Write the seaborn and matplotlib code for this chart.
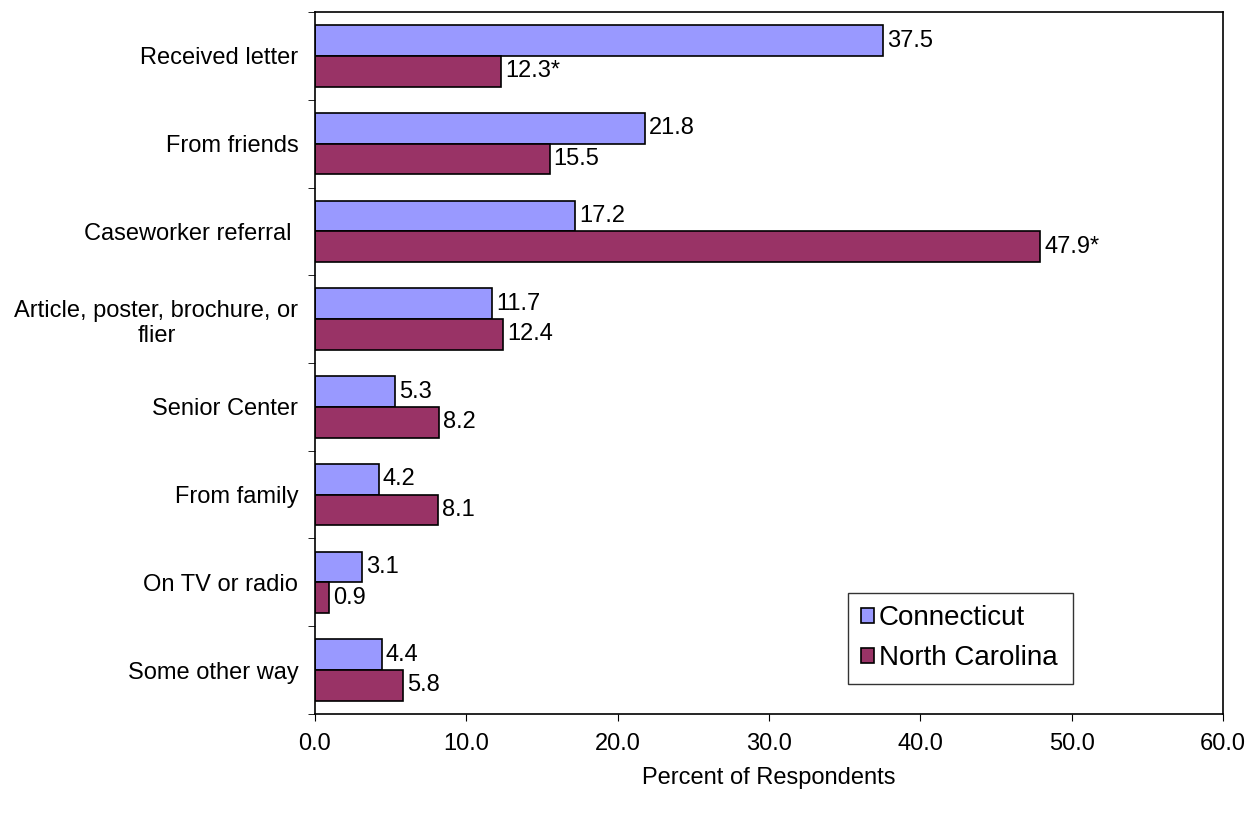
import pandas as pd
import seaborn as sns
import matplotlib.pyplot as plt
import numpy as np

# Data
categories = ['Received letter', 'From friends', 'Caseworker referral ',
              'Article, poster, brochure, or\nflier', 'Senior Center', 'From family',
              'On TV or radio', 'Some other way']
connecticut = [37.5, 21.8, 17.2, 11.7, 5.3, 4.2, 3.1, 4.4]
north_carolina = [12.3, 15.5, 47.9, 12.4, 8.2, 8.1, 0.9, 5.8]
nc_marks = ['*', '', '*', '', '', '', '', '']
states = ['Connecticut', 'North Carolina']
colors = ['#9999FF', '#993366']

df = pd.DataFrame({
    'category': categories * 2,
    'value': connecticut + north_carolina,
    'state': [states[0]] * len(categories) + [states[1]] * len(categories),
})

sns.set_style('white')
plt.rcParams['font.family'] = ['Liberation Sans', 'DejaVu Sans']
plt.rcParams['text.color'] = 'black'
plt.rcParams['axes.labelcolor'] = 'black'
plt.rcParams['xtick.color'] = 'black'
plt.rcParams['ytick.color'] = 'black'

fig = plt.figure(figsize=(12.49, 8.13), dpi=100)
ax = fig.add_axes([0.2522, 0.1218, 0.727, 0.8634])

sns.barplot(data=df, x='value', y='category', hue='state', orient='h',
            palette=colors, width=0.7, edgecolor='black', linewidth=1.2,
            saturation=1, ax=ax)

# value labels
for cont, marks in zip(ax.containers, [[''] * len(categories), nc_marks]):
    labels = [f'{v:.1f}' + m for v, m in zip(cont.datavalues, marks)]
    ax.bar_label(cont, labels=labels, padding=3, fontsize=17, color='black')

ax.set_xlim(0, 60)
ax.set_ylim(len(categories) - 0.5, -0.5)
ax.set_xticks(np.arange(0, 61, 10))
ax.set_xticklabels([f'{t:.1f}' for t in np.arange(0, 61, 10)], fontsize=17)
ax.set_yticks(range(len(categories)))
ax.set_yticklabels(categories, fontsize=17, ha='right', multialignment='center')
ax.tick_params(axis='y', which='major', length=0, pad=12)
ax.set_yticks(np.arange(-0.5, len(categories), 1), minor=True)
ax.tick_params(axis='y', which='minor', length=5, direction='out', left=True)
ax.tick_params(axis='x', which='major', length=5, direction='out', bottom=True, pad=9)

ax.set_xlabel('Percent of Respondents', fontsize=17, labelpad=8)
ax.set_ylabel('')

for s in ax.spines.values():
    s.set_color('black')
    s.set_linewidth(1.2)

leg = ax.legend(loc='lower left', bbox_to_anchor=(0.587, 0.043, 0.248, 0.131),
                mode='expand', borderaxespad=0, fontsize=20, frameon=True,
                fancybox=False, edgecolor='black', handlelength=0.5,
                handleheight=0.5, handletextpad=0.15, borderpad=0.45,
                labelspacing=0.5)
leg.get_frame().set_linewidth(1)

plt.savefig('out.png', dpi=100)
